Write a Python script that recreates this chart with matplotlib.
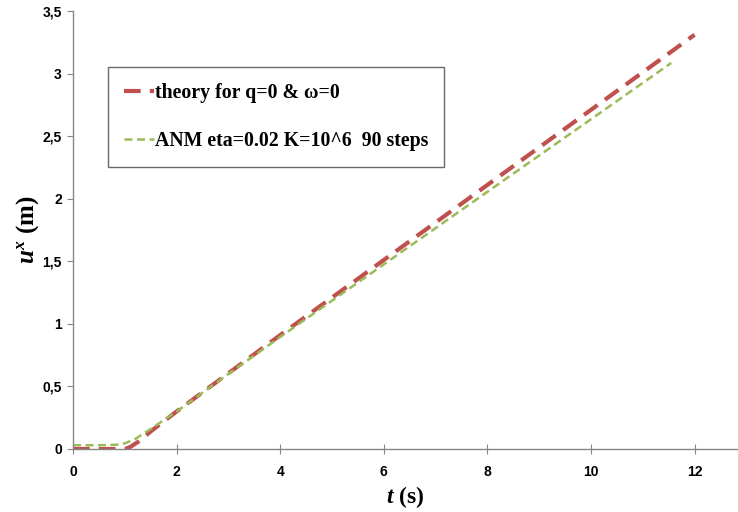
import matplotlib
matplotlib.use("Agg")
import matplotlib.pyplot as plt
from matplotlib.ticker import FuncFormatter

plt.rcParams["mathtext.fontset"] = "custom"
plt.rcParams["mathtext.it"] = "Liberation Serif:bold:italic"
plt.rcParams["mathtext.rm"] = "Liberation Serif:bold"
plt.rcParams["mathtext.bf"] = "Liberation Serif:bold"

# Data
t_theory = [0, 0.5, 1.0, 1.1, 1.25, 1.5, 1.75, 2, 3, 4, 5, 6, 7, 8, 9, 10, 11, 12]
u_theory = [0, 0, 0, 0.015, 0.055, 0.14, 0.22, 0.30, 0.605, 0.91, 1.21, 1.51, 1.81, 2.11, 2.41, 2.71, 3.01, 3.31]

t_anm = [0, 0.5, 0.9, 1.0, 1.2, 1.5, 1.75, 2, 3, 4, 5, 6, 7, 8, 9, 10, 11, 11.55]
u_anm = [0.03, 0.03, 0.035, 0.045, 0.08, 0.16, 0.23, 0.30, 0.60, 0.895, 1.185, 1.475, 1.765, 2.055, 2.345, 2.635, 2.925, 3.085]

label_theory = "theory for q=0 & \u03c9=0"
label_anm = "ANM eta=0.02 K=10^6  90 steps"

x_ticks = [0, 2, 4, 6, 8, 10, 12]
y_ticks = [0, 0.5, 1, 1.5, 2, 2.5, 3, 3.5]

red = "#C0504D"
green = "#9BBB59"
grey = "#868686"

fig = plt.figure(figsize=(7.38, 5.12), dpi=100)
ax = fig.add_axes([73/738, 63/512, (737-73)/738, (449-11)/512])

ax.plot(t_theory, u_theory, color=red, lw=3, dashes=(4, 2.2), label=label_theory)
ax.plot(t_anm, u_anm, color=green, lw=1.8, dashes=(3.2, 1.8), label=label_anm)

ax.set_xlim(0, 12.82)
ax.set_ylim(0, 3.5)
ax.set_xticks(x_ticks)
ax.set_yticks(y_ticks)

def fmt(v, pos):
    return ("%g" % v).replace(".", ",")
ax.xaxis.set_major_formatter(FuncFormatter(fmt))
ax.yaxis.set_major_formatter(FuncFormatter(fmt))

for s in ["top", "right"]:
    ax.spines[s].set_visible(False)
for s in ["left", "bottom"]:
    ax.spines[s].set_color(grey)
    ax.spines[s].set_linewidth(1.0)

ax.tick_params(axis="x", direction="inout", length=7, color=grey, pad=8)
ax.tick_params(axis="y", direction="out", length=4, color=grey, pad=4)
for lbl in ax.get_xticklabels() + ax.get_yticklabels():
    lbl.set_fontfamily("Liberation Sans")
    lbl.set_fontweight("bold")
    lbl.set_fontsize(10)

ax.set_xlabel(r"$t$ (s)", fontsize=17, fontweight="bold",
              fontfamily="Liberation Serif", labelpad=4)
ax.set_ylabel(r"$u^x$ (m)", fontsize=18, fontweight="bold",
              fontfamily="Liberation Serif", labelpad=1)

leg = ax.legend(loc="upper left", bbox_to_anchor=((108-73)/664, (449-67)/438),
                frameon=True, fancybox=False, edgecolor="#444444",
                prop={"family": "Liberation Serif", "weight": "bold", "size": 14.3},
                handlelength=1.5, handletextpad=0.05, labelspacing=1.4,
                borderpad=0.8, borderaxespad=0)
leg.get_frame().set_linewidth(1.0)

fig.savefig("out.png", dpi=100)
